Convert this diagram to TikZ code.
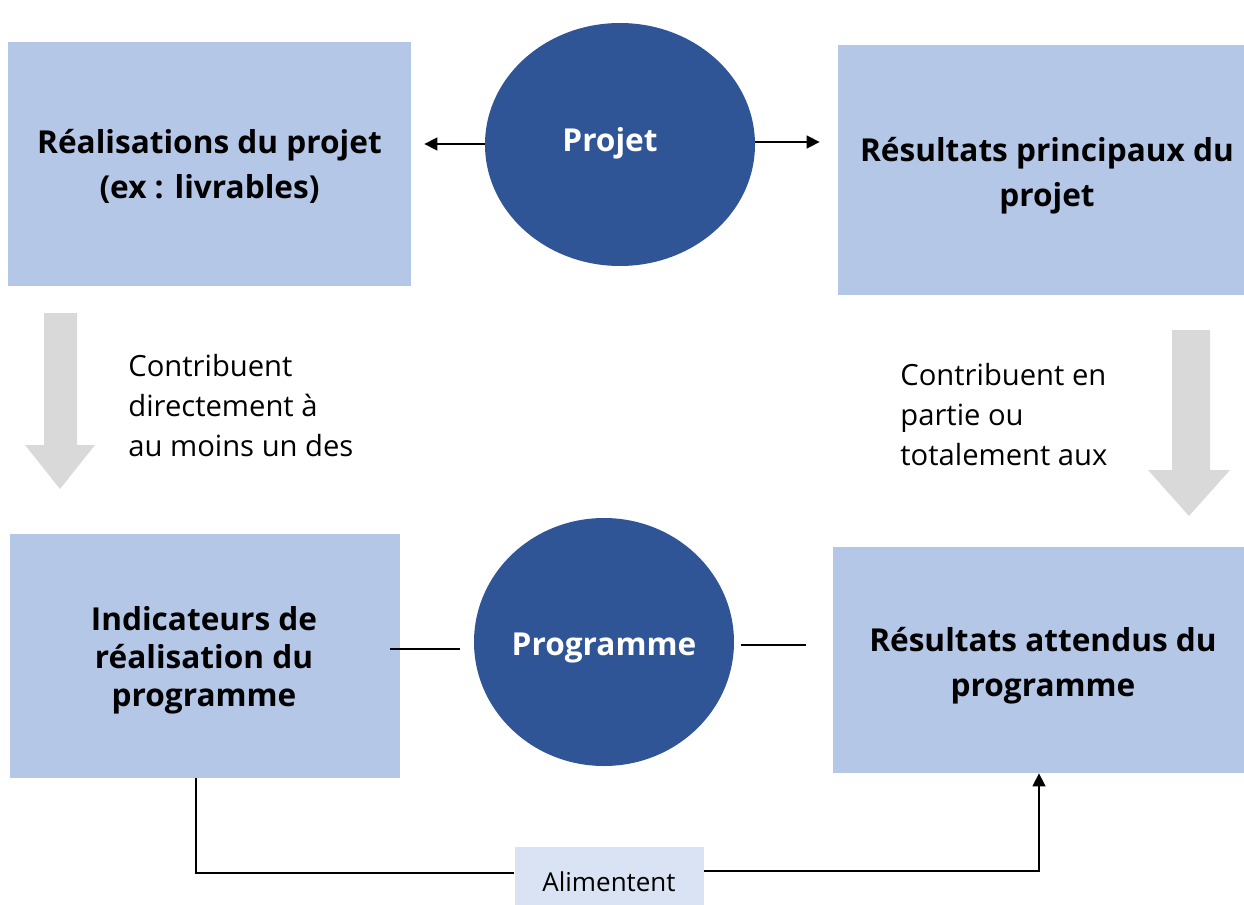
\documentclass[tikz,border=0pt]{standalone}
\usepackage{fontspec}
\setmainfont{Open Sans}
\usetikzlibrary{arrows.meta,shapes.geometric}
\definecolor{boxblue}{HTML}{B4C7E7}
\definecolor{darkblue}{HTML}{2F5597}
\definecolor{lightblue}{HTML}{DAE3F3}
\definecolor{greyarrow}{HTML}{D9D9D9}
\tikzset{
  box/.style={fill=boxblue, draw=none, inner sep=0pt, align=center,
    font=\fontsize{15.8}{22.5}\selectfont\bfseries},
  oval/.style={ellipse, fill=darkblue, draw=none, inner sep=0pt, text=white,
    font=\fontsize{15.8}{22.5}\selectfont\bfseries},
  plain/.style={align=left, inner sep=0pt, font=\fontsize{14.6}{20}\selectfont},
  link/.style={line width=0.8pt, black},
  tip/.style={-{Triangle[length=6.5pt,width=6.5pt]}},
  bigarrow/.style={fill=greyarrow, draw=none}
}
\begin{document}
\begin{tikzpicture}[x=0.5pt,y=-0.5pt]
\useasboundingbox (0,0) rectangle (1244,905);
% boxes
\node[box, minimum width=201.5pt, minimum height=122pt] (b1) at (209.5,164) {};
\node[box, align=center] (b1t) at (209.5,166) {Réalisations du projet\\(ex : livrables)};
\node[box, minimum width=203pt, minimum height=125pt] (b2) at (1041,170) {};
\node[box, align=center] (b2t) at (1047,176) {Résultats principaux du\\projet};
\node[box, minimum width=195pt, minimum height=122pt] (b3) at (205,656) {};
\node[box, align=center, font=\fontsize{15.8}{19}\selectfont\bfseries] (b3t) at (204,660) {Indicateurs de\\réalisation du\\programme};
\node[box, minimum width=205.5pt, minimum height=113pt] (b4) at (1038.5,660) {};
\node[box, align=center] (b4t) at (1043,665.5) {Résultats attendus du\\programme};
% ovals
\node[oval, minimum width=135pt, minimum height=121.5pt] (proj) at (620,144.5) {};
\node[text=white, font=\fontsize{15.8}{22.5}\selectfont\bfseries] (projt) at (610,143) {Projet};
\node[oval, minimum width=130pt, minimum height=124pt] (prog) at (604,642) {};
\node[text=white, font=\fontsize{15.8}{22.5}\selectfont\bfseries] (progt) at (604,648) {Programme};
% text
\node[plain, anchor=west] (t1) at (128,406) {Contribuent\\directement à\\au moins un des};
\node[plain, anchor=west] (t2) at (900,415) {Contribuent en\\partie ou\\totalement aux};
\node[fill=lightblue, minimum width=94.5pt, minimum height=29pt, inner sep=0pt] (ali) at (609,876) {};
\node[font=\fontsize{13}{15}\selectfont] (alit) at (609,882) {Alimentent};
% grey arrows
\path[bigarrow] (44,313) -- (77,313) -- (77,445) -- (95,445) -- (60,489) -- (25,445) -- (44,445) -- cycle;
\path[bigarrow] (1172,330) -- (1210,330) -- (1210,470) -- (1230,470) -- (1189,516) -- (1148,470) -- (1172,470) -- cycle;
% connectors
\draw[link, tip, shorten >=6.5pt] (proj.west |- 0,144) -- (b1.east |- 0,144);
\draw[link, tip, shorten >=9pt] (proj.east |- 0,142) -- (b2.west |- 0,142);
\coordinate (l1) at (390,649);
\coordinate (l2) at (460,649);
\coordinate (r1) at (741,645);
\coordinate (r2) at (806,645);
\draw[link] (l1) -- (l2);
\draw[link] (r1) -- (r2);
\draw[link] (b3.south -| 196,0) -- (196,873) -- (ali.west |- 0,873);
\draw[link, tip] (ali.east |- 0,871) -- (1039,871) -- (b4.south -| 1039,0);
\end{tikzpicture}
\end{document}
